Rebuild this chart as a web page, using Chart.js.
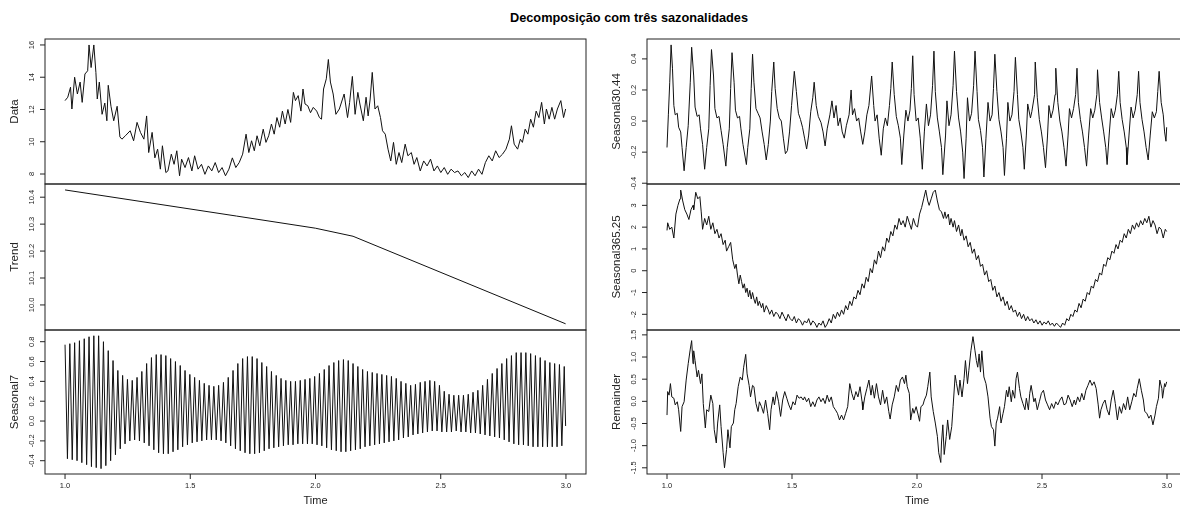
<!DOCTYPE html>
<html>
<head>
<meta charset="utf-8">
<script src="https://cdn.jsdelivr.net/npm/chart.js@4.4.1/dist/chart.umd.min.js"></script>
<style>
  html, body { margin: 0; padding: 0; background: #fff; }
  body { width: 1180px; height: 508px; overflow: hidden; position: relative; }
  canvas { position: absolute; }
  #titulo {
    position: absolute; top: 10px; left: 0; width: 1258px; line-height: 14px;
    text-align: center; color: #000;
    font: bold 12.75px "Liberation Sans", Arial, Helvetica, sans-serif;
  }
</style>
</head>
<body>
<div id="titulo">Decomposição com três sazonalidades</div>
<canvas id="cData"></canvas>
<canvas id="cTrend"></canvas>
<canvas id="cS7"></canvas>
<canvas id="cS30"></canvas>
<canvas id="cS365"></canvas>
<canvas id="cRem"></canvas>
<script>
// Eixo do tempo: dia 0 = 1.0, 365.25 dias = 1 unidade
const xTicks = [1, 1.5, 2, 2.5, 3];
const xTickLabels = ['1.0', '1.5', '2.0', '2.5', '3.0'];

// Série original [dia, valor]
const dataPts = [[0,12.55],[4,12.76],[8,13.38],[10,12.03],[14,14.0],[18,12.96],[22,13.7],[25,12.44],[29,14.2],[33,14.4],[35,16.0],[38,14.6],[42,16.0],[45,14.3],[47,12.65],[50,13.7],[54,11.7],[58,12.4],[61,11.3],[63,13.5],[67,12.2],[71,11.3],[76,12.2],[80,10.3],[83,10.16],[88,10.37],[95,10.68],[100,10.06],[105,11.2],[110,10.58],[115,10.16],[119,11.6],[122,9.33],[127,10.58],[131,9.0],[135,9.54],[139,8.3],[142,9.75],[147,8.09],[150,8.19],[155,9.23],[159,8.6],[163,9.44],[167,7.89],[170,8.92],[175,8.4],[180,9.02],[185,8.19],[189,9.13],[194,8.3],[199,8.6],[204,7.98],[209,8.5],[214,8.19],[219,8.71],[224,8.09],[229,8.4],[234,7.89],[239,8.3],[244,9.0],[249,8.4],[254,8.71],[259,9.23],[264,10.47],[268,9.33],[272,10.06],[276,9.44],[280,10.37],[284,9.75],[289,10.78],[293,9.96],[297,10.37],[301,11.1],[305,10.47],[309,11.5],[313,10.9],[317,11.9],[321,11.1],[325,12.0],[329,11.2],[333,13.06],[336,12.55],[340,12.86],[344,11.9],[347,13.27],[350,12.34],[354,12.23],[358,11.8],[362,12.13],[367,11.9],[371,11.5],[374,11.4],[377,13.27],[381,13.9],[384,15.1],[387,13.7],[391,12.96],[395,11.7],[400,12.03],[407,12.96],[412,11.5],[415,12.44],[419,14.05],[423,11.7],[427,13.06],[430,12.34],[435,11.3],[439,12.76],[442,11.6],[445,12.65],[448,14.3],[452,12.03],[456,12.23],[460,11.5],[463,10.68],[467,10.47],[471,9.54],[475,8.81],[479,9.96],[483,8.6],[487,9.33],[491,8.71],[496,9.85],[500,9.13],[505,9.33],[509,8.6],[513,9.02],[518,8.19],[523,8.81],[528,8.5],[533,8.92],[538,8.19],[543,8.5],[548,8.09],[553,8.4],[558,7.98],[563,8.3],[568,8.09],[573,8.19],[578,7.89],[583,8.09],[588,7.78],[593,8.19],[598,7.89],[603,8.3],[608,7.98],[613,8.71],[618,9.13],[623,8.81],[628,9.44],[633,9.02],[638,9.23],[643,9.54],[648,10.16],[651,10.99],[655,9.85],[660,9.54],[664,10.16],[667,9.96],[671,10.78],[675,10.47],[679,11.4],[683,10.9],[687,11.9],[691,11.5],[695,12.44],[699,11.1],[702,12.03],[706,11.4],[710,12.13],[714,11.4],[718,12.03],[723,12.55],[727,11.5],[730,12.03]];

// Tendência
const trendPts = [[0,10.427],[250,10.33],[365,10.285],[420,10.255],[730,9.93]];

// Sazonalidade semanal: picos e vales de cada semana
const s7Hi = [0.77,0.78,0.79,0.81,0.83,0.85,0.86,0.86,0.80,0.71,0.61,0.51,0.46,0.42,0.41,0.44,0.50,0.58,0.64,0.67,0.67,0.66,0.63,0.60,0.56,0.51,0.47,0.44,0.41,0.38,0.36,0.35,0.36,0.39,0.44,0.51,0.58,0.63,0.65,0.65,0.63,0.59,0.55,0.50,0.46,0.43,0.41,0.40,0.40,0.41,0.42,0.43,0.45,0.48,0.52,0.56,0.59,0.61,0.62,0.61,0.58,0.55,0.52,0.50,0.49,0.48,0.47,0.46,0.45,0.43,0.40,0.38,0.36,0.37,0.39,0.40,0.41,0.40,0.36,0.30,0.27,0.26,0.26,0.26,0.27,0.29,0.31,0.36,0.42,0.48,0.53,0.58,0.63,0.66,0.69,0.69,0.69,0.68,0.66,0.64,0.61,0.59,0.58,0.57,0.55];
const s7Lo = [-0.38,-0.39,-0.40,-0.42,-0.44,-0.46,-0.47,-0.48,-0.45,-0.40,-0.34,-0.28,-0.23,-0.20,-0.19,-0.20,-0.22,-0.25,-0.29,-0.32,-0.33,-0.33,-0.31,-0.29,-0.26,-0.24,-0.22,-0.21,-0.20,-0.19,-0.19,-0.19,-0.20,-0.22,-0.25,-0.28,-0.30,-0.32,-0.33,-0.33,-0.32,-0.30,-0.28,-0.27,-0.26,-0.25,-0.24,-0.24,-0.23,-0.23,-0.23,-0.23,-0.24,-0.25,-0.27,-0.29,-0.30,-0.31,-0.31,-0.30,-0.29,-0.28,-0.26,-0.25,-0.24,-0.23,-0.22,-0.21,-0.20,-0.19,-0.17,-0.16,-0.14,-0.13,-0.12,-0.11,-0.10,-0.10,-0.11,-0.11,-0.11,-0.10,-0.11,-0.11,-0.12,-0.12,-0.13,-0.14,-0.15,-0.16,-0.17,-0.19,-0.21,-0.23,-0.24,-0.24,-0.25,-0.26,-0.26,-0.26,-0.26,-0.26,-0.26,-0.25];

// Sazonalidade mensal (30.44)
const s30Pts = [[0,-0.17],[2,0.04],[4,0.25],[6,0.49],[8,0.34],[10,0.10],[12,0.04],[15,0.05],[17,-0.04],[20,-0.07],[22,-0.17],[25,-0.32],[28,-0.17],[31,-0.03],[34,0.25],[36,0.475],[39,0.29],[41,0.09],[44,0.03],[47,0.04],[49,-0.05],[52,-0.15],[55,-0.31],[58,-0.17],[61,-0.05],[63,0.23],[65,0.46],[68,0.29],[70,0.08],[73,0.02],[76,0.03],[79,-0.06],[82,-0.15],[86,-0.29],[88,-0.17],[91,-0.05],[93,0.21],[95,0.44],[98,0.25],[100,0.07],[103,0.02],[106,0.03],[108,-0.05],[111,-0.15],[116,-0.28],[118,-0.17],[121,-0.05],[123,0.21],[125,0.43],[127,0.25],[130,0.08],[133,0.05],[136,0.02],[139,-0.07],[142,-0.15],[145,-0.25],[148,-0.15],[151,0.0],[153,0.19],[156,0.38],[158,0.21],[161,0.08],[164,0.02],[167,0.0],[170,-0.11],[173,-0.21],[176,-0.19],[179,-0.07],[182,0.10],[186,0.32],[189,0.19],[192,0.05],[195,0.01],[198,-0.04],[201,-0.11],[204,-0.18],[207,-0.09],[210,0.06],[213,0.15],[215,0.25],[218,0.10],[221,0.03],[225,-0.01],[228,-0.07],[231,-0.16],[234,-0.05],[238,0.04],[241,0.13],[244,0.02],[247,0.10],[250,-0.03],[253,0.02],[256,-0.07],[259,-0.11],[262,-0.03],[266,0.04],[269,0.20],[271,0.04],[274,0.08],[277,0.0],[280,0.02],[283,-0.07],[286,-0.15],[289,-0.07],[292,0.04],[295,0.10],[299,0.29],[302,0.10],[304,0.0],[307,0.04],[310,-0.11],[313,-0.22],[316,-0.05],[319,0.02],[322,-0.03],[325,0.10],[327,0.21],[329,0.38],[332,0.17],[335,0.03],[338,-0.03],[341,-0.11],[343,-0.28],[346,-0.09],[349,0.07],[352,0.0],[355,0.07],[357,0.21],[359,0.42],[361,0.17],[364,0.0],[367,0.02],[370,-0.11],[373,-0.31],[376,-0.07],[379,0.11],[382,-0.03],[385,0.04],[388,0.23],[390,0.45],[392,0.19],[395,0.02],[398,-0.07],[401,-0.17],[403,-0.345],[407,-0.09],[409,0.13],[412,-0.03],[415,0.04],[418,0.23],[420,0.45],[423,0.19],[426,0.02],[429,-0.07],[432,-0.20],[434,-0.37],[437,-0.11],[439,0.15],[442,0.0],[445,0.05],[448,0.23],[450,0.45],[453,0.19],[455,0.01],[458,-0.06],[461,-0.17],[463,-0.36],[466,-0.11],[469,0.12],[472,0.0],[475,0.04],[477,0.21],[479,0.43],[482,0.19],[485,0.01],[488,-0.07],[491,-0.17],[493,-0.35],[496,-0.11],[498,0.12],[501,0.0],[504,0.04],[507,0.19],[509,0.41],[512,0.17],[514,0.01],[517,-0.07],[520,-0.17],[522,-0.31],[525,-0.09],[527,0.11],[531,0.02],[533,0.06],[537,0.17],[538,0.38],[541,0.15],[544,0.01],[547,-0.07],[550,-0.17],[553,-0.30],[556,-0.09],[558,0.10],[561,0.02],[564,0.07],[567,0.17],[568,0.34],[571,0.12],[574,0.0],[577,-0.07],[580,-0.17],[583,-0.29],[586,-0.09],[588,0.08],[591,0.02],[594,0.08],[597,0.17],[599,0.34],[601,0.12],[604,0.01],[607,-0.07],[610,-0.17],[613,-0.29],[616,-0.09],[619,0.08],[622,0.02],[625,0.07],[628,0.17],[629,0.33],[632,0.12],[635,0.02],[638,-0.07],[641,-0.17],[643,-0.28],[646,-0.09],[649,0.08],[652,0.02],[655,0.07],[658,0.17],[660,0.32],[662,0.12],[665,0.01],[668,-0.07],[671,-0.17],[672,-0.28],[675,-0.09],[678,0.09],[681,0.02],[684,0.07],[687,0.17],[689,0.32],[691,0.12],[694,0.01],[697,-0.07],[700,-0.17],[703,-0.25],[706,-0.09],[709,0.06],[712,0.02],[715,0.06],[717,0.19],[719,0.32],[722,0.12],[725,0.04],[727,-0.07],[729,-0.13],[730,-0.04]];

// Sazonalidade anual (365.25)
const s365Pts = [[0,1.85],[1,2.2],[4,1.9],[7,2.0],[10,1.5],[13,2.6],[16,3.0],[19,3.3],[20,3.7],[23,3.2],[26,2.8],[29,2.6],[32,2.35],[35,2.8],[38,3.0],[39,2.8],[42,3.6],[45,3.3],[48,3.4],[50,2.7],[52,1.9],[55,2.4],[58,2.1],[61,2.5],[64,1.9],[67,2.2],[70,1.7],[73,1.9],[76,1.5],[79,1.7],[82,1.2],[85,1.4],[87,0.9],[90,1.1],[93,1.3],[96,0.5],[99,0.1],[101,0.3],[103,-0.2],[105,-0.6],[107,-0.2],[109,-0.5],[111,-0.8],[113,-0.6],[115,-1.0],[117,-0.8],[119,-1.2],[121,-0.9],[123,-1.3],[125,-1.0],[127,-1.3],[129,-1.5],[131,-1.2],[133,-1.6],[135,-1.4],[138,-1.7],[140,-1.5],[142,-1.9],[145,-1.6],[148,-1.8],[150,-2.0],[153,-1.8],[156,-2.1],[159,-1.9],[162,-2.0],[165,-2.2],[168,-1.9],[171,-2.1],[174,-2.3],[177,-2.0],[180,-2.2],[183,-2.3],[186,-2.1],[189,-2.4],[192,-2.2],[195,-2.3],[198,-2.5],[201,-2.3],[204,-2.4],[207,-2.2],[210,-2.5],[213,-2.3],[216,-2.4],[219,-2.6],[222,-2.4],[225,-2.5],[228,-2.3],[231,-2.6],[234,-2.45],[237,-2.2],[240,-2.4],[243,-2.0],[246,-2.2],[249,-1.9],[252,-2.1],[255,-1.8],[258,-2.0],[261,-1.6],[264,-1.8],[267,-1.4],[270,-1.6],[273,-1.2],[276,-1.3],[279,-0.9],[282,-1.1],[285,-0.6],[288,-0.8],[291,-0.3],[294,-0.5],[297,0.1],[300,-0.1],[303,0.5],[306,0.3],[309,0.9],[312,0.6],[315,1.1],[318,0.9],[321,1.5],[324,1.3],[327,1.8],[330,1.6],[333,2.1],[336,1.9],[339,2.4],[342,2.1],[345,2.3],[348,2.0],[351,2.5],[354,2.2],[357,1.9],[360,2.4],[363,2.1],[366,2.0],[369,2.6],[372,2.9],[375,3.3],[378,3.7],[381,3.2],[383,3.0],[386,3.3],[389,3.6],[392,3.7],[395,3.2],[398,2.8],[401,2.7],[404,2.4],[406,2.7],[408,2.4],[411,2.6],[413,2.1],[415,2.4],[418,2.0],[420,2.3],[423,1.8],[426,2.1],[429,1.6],[431,1.9],[434,1.4],[437,1.6],[440,1.1],[443,1.3],[446,0.8],[449,1.0],[452,0.5],[455,0.7],[458,0.2],[461,0.3],[464,-0.2],[467,0.0],[470,-0.5],[473,-0.4],[476,-0.9],[479,-0.7],[482,-1.2],[485,-1.0],[488,-1.4],[491,-1.2],[494,-1.6],[497,-1.4],[500,-1.8],[503,-1.6],[506,-1.9],[509,-1.8],[512,-2.1],[515,-1.9],[518,-2.2],[521,-2.0],[524,-2.3],[527,-2.1],[530,-2.3],[533,-2.2],[536,-2.4],[539,-2.25],[542,-2.45],[545,-2.3],[548,-2.5],[551,-2.35],[554,-2.45],[557,-2.3],[560,-2.5],[563,-2.4],[566,-2.55],[569,-2.4],[572,-2.5],[575,-2.6],[578,-2.4],[581,-2.5],[584,-2.2],[587,-2.3],[590,-2.0],[593,-2.1],[596,-1.8],[599,-1.9],[602,-1.5],[605,-1.7],[608,-1.3],[611,-1.4],[614,-1.0],[617,-1.1],[620,-0.7],[623,-0.8],[626,-0.4],[629,-0.5],[632,-0.1],[635,-0.2],[638,0.3],[641,0.2],[644,0.6],[647,0.5],[650,0.9],[653,0.8],[656,1.2],[659,1.0],[662,1.4],[665,1.3],[668,1.7],[671,1.5],[674,1.9],[677,1.7],[680,2.1],[683,1.9],[686,2.2],[689,2.0],[692,2.3],[695,2.1],[698,2.4],[701,2.2],[704,2.5],[707,2.0],[710,2.3],[713,2.1],[716,1.7],[719,2.0],[722,1.9],[725,1.5],[728,1.9],[730,1.8]];

// Resíduo
const remPts = [[0,-0.31],[1,0.22],[3,0.14],[5,0.40],[7,0.10],[10,0.07],[12,-0.08],[15,-0.01],[17,-0.19],[20,-0.68],[22,-0.12],[25,-0.01],[28,0.48],[31,0.85],[34,1.18],[36,1.37],[38,0.85],[39,1.14],[41,0.92],[44,0.55],[46,0.70],[49,0.40],[51,0.62],[53,-0.05],[56,-0.60],[58,-0.19],[61,-0.23],[64,0.14],[67,-0.05],[69,-0.64],[72,-0.94],[74,-0.49],[77,-0.08],[79,-0.57],[82,-1.16],[84,-1.5],[87,-1.09],[89,-0.64],[92,-1.05],[94,-0.57],[97,-0.49],[99,-0.19],[101,-0.05],[104,0.33],[107,0.55],[110,0.48],[112,0.77],[115,1.06],[117,0.62],[120,0.36],[122,0.10],[125,0.36],[127,0.33],[130,-0.05],[133,-0.23],[135,-0.01],[138,-0.12],[141,-0.27],[144,0.03],[147,-0.27],[150,-0.64],[152,-0.19],[155,0.10],[157,-0.08],[160,0.22],[163,-0.01],[166,-0.34],[169,0.03],[172,0.22],[175,0.07],[178,-0.08],[181,-0.19],[184,-0.01],[187,-0.08],[190,0.14],[193,0.07],[196,0.10],[199,0.03],[201,0.10],[204,-0.01],[207,0.07],[210,-0.12],[213,-0.01],[216,-0.12],[219,0.03],[222,0.10],[225,-0.01],[228,0.07],[231,-0.05],[234,0.14],[237,-0.01],[240,0.10],[243,-0.12],[246,-0.19],[249,-0.27],[252,-0.42],[255,-0.31],[258,-0.42],[261,-0.27],[264,-0.12],[267,0.40],[270,0.18],[273,0.03],[276,0.22],[279,0.10],[282,0.33],[285,-0.01],[286,-0.19],[289,0.10],[292,0.29],[295,0.48],[298,0.14],[300,0.36],[303,0.07],[306,0.40],[309,0.10],[312,-0.08],[315,0.25],[318,-0.05],[321,0.10],[324,-0.23],[326,-0.40],[329,-0.08],[332,0.10],[335,0.36],[338,0.22],[341,0.48],[344,0.55],[347,0.40],[349,0.59],[351,0.33],[354,0.18],[356,-0.42],[359,-0.16],[361,-0.27],[364,-0.12],[367,-0.31],[369,-0.45],[371,-0.12],[374,-0.08],[376,0.03],[379,0.14],[381,0.33],[384,0.66],[386,0.10],[389,-0.23],[392,-0.49],[395,-0.79],[397,-1.16],[400,-1.38],[401,-0.94],[403,-0.53],[405,-1.20],[408,-0.79],[410,-0.42],[413,-0.86],[416,-0.57],[418,-0.12],[421,0.59],[423,0.40],[426,0.14],[428,0.48],[431,0.10],[434,0.51],[436,0.92],[439,0.40],[441,0.70],[444,1.14],[447,1.46],[450,1.14],[452,0.92],[454,0.77],[456,1.07],[458,0.66],[460,1.14],[463,0.55],[466,0.40],[469,0.10],[472,-0.38],[474,-0.57],[477,-0.64],[479,-1.01],[481,-0.49],[483,-0.38],[486,-0.12],[488,-0.49],[491,-0.27],[493,-0.12],[496,0.25],[498,0.10],[500,0.33],[503,-0.01],[505,0.25],[508,0.07],[510,0.51],[512,0.66],[515,0.29],[517,0.10],[520,-0.05],[523,-0.19],[525,0.07],[528,-0.19],[530,0.18],[532,0.36],[536,-0.01],[538,0.07],[541,-0.19],[544,-0.01],[547,0.18],[550,0.25],[553,0.03],[556,-0.08],[559,-0.19],[562,-0.05],[565,-0.16],[568,-0.01],[571,-0.08],[574,0.03],[577,0.10],[580,-0.08],[583,-0.05],[586,0.14],[589,0.03],[592,-0.12],[595,0.03],[597,-0.08],[600,0.10],[603,-0.01],[606,0.18],[609,0.03],[612,0.25],[615,0.36],[618,0.48],[621,0.36],[624,0.44],[627,0.29],[630,-0.08],[632,-0.38],[634,-0.19],[637,-0.05],[640,0.03],[643,-0.19],[646,-0.31],[649,0.03],[652,0.25],[655,-0.05],[658,-0.42],[661,-0.12],[664,-0.27],[667,-0.05],[670,-0.19],[673,0.10],[676,-0.19],[679,-0.01],[682,0.18],[685,0.10],[687,0.29],[690,0.51],[693,0.25],[696,0.03],[698,-0.23],[701,-0.27],[704,-0.38],[707,-0.31],[710,-0.53],[713,-0.31],[715,-0.12],[718,0.07],[720,0.48],[723,0.29],[724,0.07],[727,0.40],[728,0.33],[730,0.44]];

// Marcas dos eixos y de cada painel
const dataTicks = [8, 10, 12, 14, 16];
const trendTicks = [10.0, 10.1, 10.2, 10.3, 10.4];
const s7Ticks = [-0.4, -0.2, 0, 0.2, 0.4, 0.6, 0.8];
const s30Ticks = [-0.4, -0.2, 0, 0.2, 0.4];
const s365Ticks = [-2, -1, 0, 1, 2, 3];
const remTicks = [-1.5, -1, -0.5, 0, 0.5, 1, 1.5];

const FONT = '"Liberation Sans", Arial, Helvetica, sans-serif';
const toTime = d => 1 + d / 365.25;
const fromPairs = pts => pts.map(p => ({ x: toTime(p[0]), y: p[1] }));

// semana: pico no início, vale no meio
const s7Pts = [];
s7Hi.forEach((v, w) => {
    s7Pts.push({ x: toTime(w * 7), y: v });
    if (w < s7Hi.length - 1) s7Pts.push({ x: toTime(w * 7 + 3.5), y: s7Lo[w] });
});
s7Pts.push({ x: toTime(730), y: -0.05 });

// Eixos no estilo do R: caixa, marcas para fora, rótulos girados
const rAxes = {
    id: 'rAxes',
    afterDraw(chart, args, o) {
        const { ctx, chartArea: a } = chart;
        const xs = chart.scales.x, ys = chart.scales.y;
        ctx.save();
        ctx.strokeStyle = '#222';
        ctx.lineWidth = 1;
        ctx.strokeRect(a.left, a.top, a.right - a.left, a.bottom - a.top);

        ctx.fillStyle = '#222';
        ctx.textAlign = 'center';
        ctx.textBaseline = 'middle';
        ctx.font = '7.5px ' + FONT;
        o.ticks.forEach(v => {
            const py = ys.getPixelForValue(v);
            ctx.beginPath();
            ctx.moveTo(a.left - 5, py);
            ctx.lineTo(a.left, py);
            ctx.stroke();
            const lbl = o.digits ? v.toFixed(o.digits) : String(v);
            ctx.save();
            ctx.translate(a.left - 13, py);
            ctx.rotate(-Math.PI / 2);
            ctx.fillText(lbl, 0, 0);
            ctx.restore();
        });

        ctx.font = '11.5px ' + FONT;
        ctx.save();
        ctx.translate(a.left - 30, (a.top + a.bottom) / 2);
        ctx.rotate(-Math.PI / 2);
        ctx.fillText(o.title, 0, 0);
        ctx.restore();

        if (o.xAxis) {
            ctx.font = '7.5px ' + FONT;
            xTicks.forEach((v, i) => {
                const px = xs.getPixelForValue(v);
                ctx.beginPath();
                ctx.moveTo(px, a.bottom);
                ctx.lineTo(px, a.bottom + 5);
                ctx.stroke();
                ctx.fillText(xTickLabels[i], px, a.bottom + 12);
            });
            ctx.font = '11px ' + FONT;
            ctx.fillText('Time', (xs.getPixelForValue(1) + xs.getPixelForValue(3)) / 2, a.bottom + 27);
        }
        ctx.restore();
    }
};

const cols = [
    { left: 0, width: 590, padL: 45, padR: 4 },
    { left: 590, width: 600, padL: 57, padR: 3 }
];
const rows = [
    { top: 27, height: 170, padT: 12, padB: 13 },
    { top: 172, height: 170, padT: 12, padB: 12 },
    { top: 318, height: 190, padT: 12, padB: 34 }
];

function panel(id, col, row, pts, min, max, ticks, digits, title) {
    const c = cols[col], r = rows[row];
    const el = document.getElementById(id);
    el.width = c.width;
    el.height = r.height;
    el.style.left = c.left + 'px';
    el.style.top = r.top + 'px';
    new Chart(el, {
        type: 'line',
        data: {
            datasets: [{
                data: pts,
                borderColor: '#111',
                borderWidth: 1,
                pointRadius: 0,
                tension: 0,
                fill: false
            }]
        },
        options: {
            responsive: false,
            animation: false,
            devicePixelRatio: 1,
            events: [],
            layout: { padding: { left: c.padL, right: c.padR, top: r.padT, bottom: r.padB } },
            scales: {
                x: { type: 'linear', display: false, min: 0.92, max: 3.08 },
                y: { type: 'linear', display: false, min: min, max: max }
            },
            plugins: {
                legend: { display: false },
                tooltip: { enabled: false },
                rAxes: { ticks: ticks, digits: digits, title: title, xAxis: row === 2 }
            }
        },
        plugins: [rAxes]
    });
}

panel('cData', 0, 0, fromPairs(dataPts), 7.38, 16.37, dataTicks, 0, 'Data');
panel('cTrend', 0, 1, fromPairs(trendPts), 9.907, 10.449, trendTicks, 1, 'Trend');
panel('cS7', 0, 2, s7Pts, -0.534, 0.918, s7Ticks, 1, 'Seasonal7');
panel('cS30', 1, 0, fromPairs(s30Pts), -0.405, 0.528, s30Ticks, 1, 'Seasonal30.44');
panel('cS365', 1, 1, fromPairs(s365Pts), -2.72, 3.98, s365Ticks, 0, 'Seasonal365.25');
panel('cRem', 1, 2, fromPairs(remPts), -1.64, 1.61, remTicks, 1, 'Remainder');
</script>
</body>
</html>
